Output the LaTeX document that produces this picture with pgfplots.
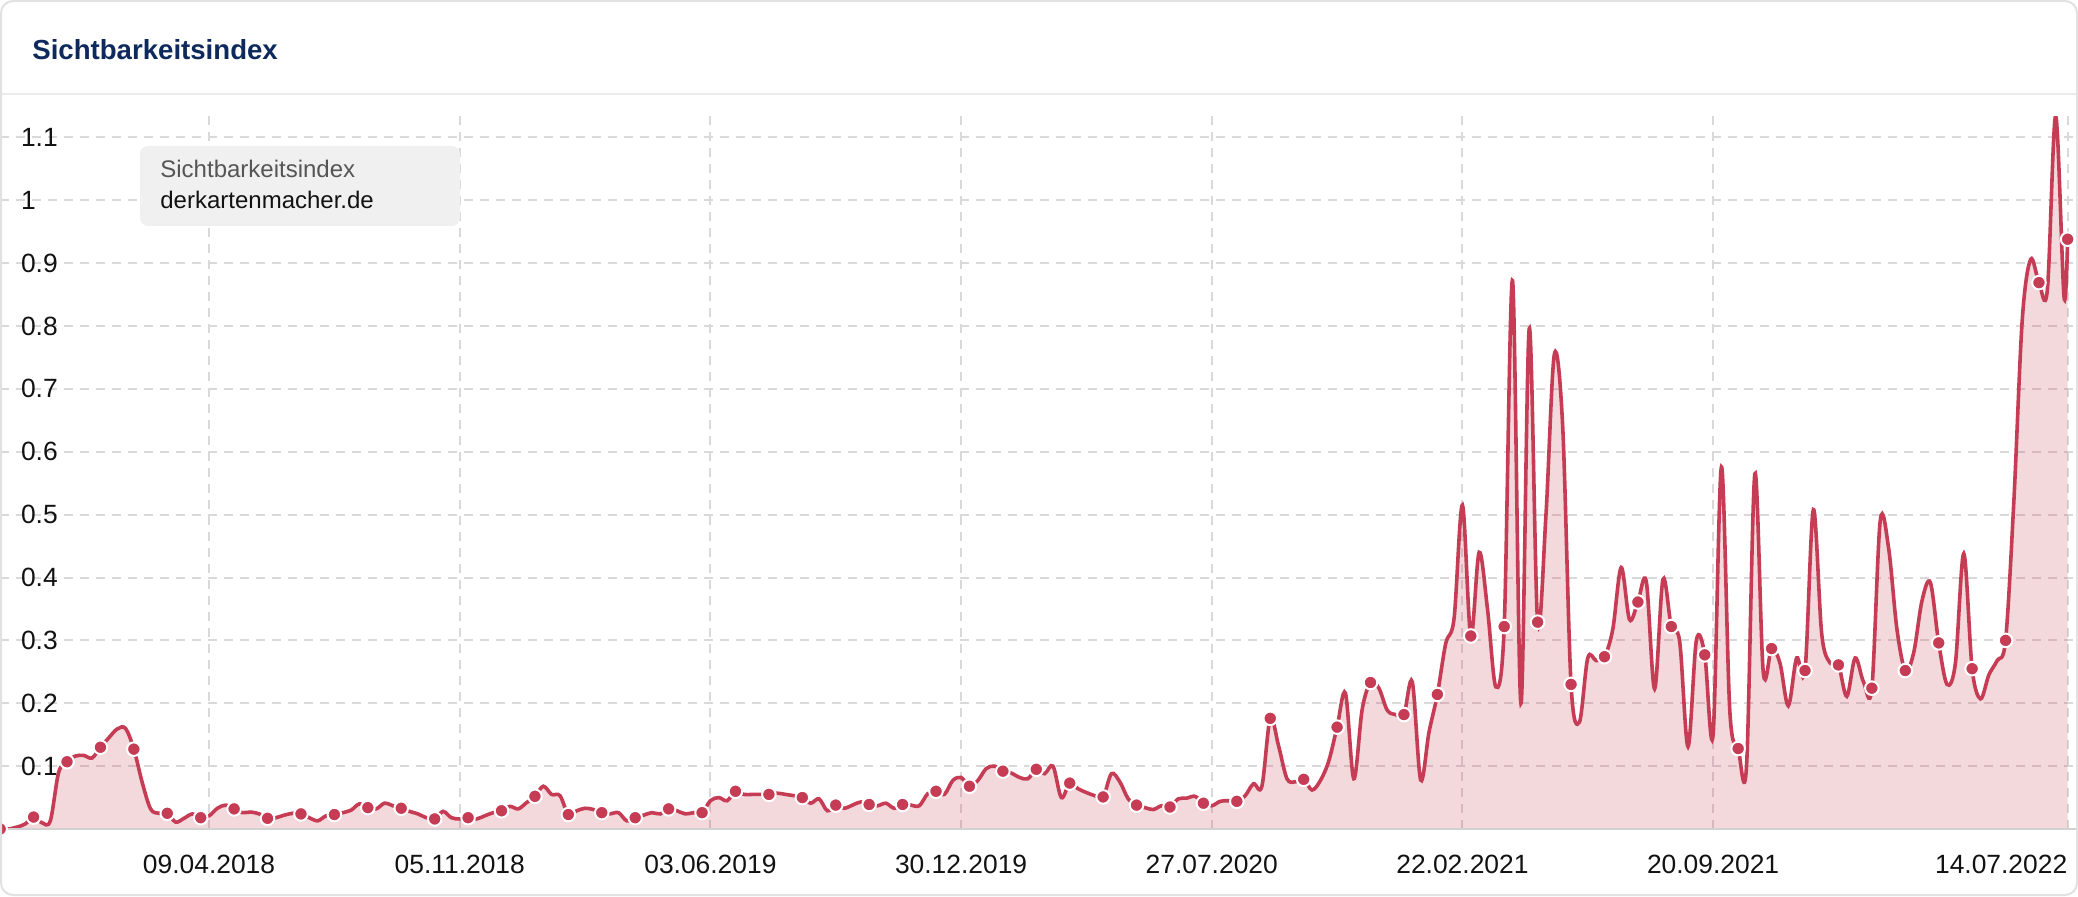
\documentclass[border=0pt]{standalone}
\usepackage{fontspec}
\setmainfont{Liberation Sans}
\usepackage{pgfplots}
\pgfplotsset{compat=1.18}
\usepackage{pgfplotstable}
\definecolor{sred}{RGB}{197,60,84}
\definecolor{snavy}{RGB}{14,42,92}
\definecolor{gridc}{RGB}{217,217,217}
\definecolor{legbg}{RGB}{240,240,240}
\definecolor{leggray}{RGB}{85,85,85}
\definecolor{cardb}{RGB}{225,225,225}
\pgfplotstableread{
k v
0 0.000
1 0.000
2 0.003
3 0.008
4 0.019
5 0.010
6 0.013
7 0.090
8 0.107
9 0.116
10 0.117
11 0.113
12 0.130
13 0.145
14 0.159
15 0.160
16 0.127
17 0.074
18 0.032
19 0.025
20 0.025
21 0.011
22 0.017
23 0.024
24 0.018
25 0.021
26 0.033
27 0.038
28 0.032
29 0.026
30 0.027
31 0.024
32 0.017
33 0.018
34 0.022
35 0.025
36 0.024
37 0.018
38 0.013
39 0.021
40 0.023
41 0.026
42 0.030
43 0.040
44 0.034
45 0.032
46 0.041
47 0.037
48 0.033
49 0.028
50 0.024
51 0.018
52 0.016
53 0.028
54 0.018
55 0.016
56 0.018
57 0.016
58 0.021
59 0.026
60 0.029
61 0.036
62 0.032
63 0.042
64 0.052
65 0.068
66 0.055
67 0.053
68 0.023
69 0.029
70 0.033
71 0.031
72 0.026
73 0.024
74 0.026
75 0.013
76 0.018
77 0.022
78 0.026
79 0.024
80 0.032
81 0.029
82 0.024
83 0.026
84 0.026
85 0.045
86 0.050
87 0.045
88 0.060
89 0.055
90 0.055
91 0.055
92 0.055
93 0.057
94 0.055
95 0.053
96 0.050
97 0.041
98 0.048
99 0.029
100 0.038
101 0.033
102 0.038
103 0.043
104 0.039
105 0.037
106 0.041
107 0.033
108 0.039
109 0.038
110 0.037
111 0.056
112 0.060
113 0.055
114 0.077
115 0.082
116 0.068
117 0.077
118 0.096
119 0.100
120 0.092
121 0.089
122 0.082
123 0.080
124 0.095
125 0.088
126 0.100
127 0.050
128 0.073
129 0.064
130 0.058
131 0.053
132 0.051
133 0.088
134 0.075
135 0.048
136 0.038
137 0.034
138 0.031
139 0.037
140 0.035
141 0.048
142 0.049
143 0.052
144 0.041
145 0.037
146 0.044
147 0.045
148 0.044
149 0.053
150 0.072
151 0.068
152 0.176
153 0.132
154 0.080
155 0.075
156 0.079
157 0.062
158 0.077
159 0.108
160 0.162
161 0.216
162 0.080
163 0.190
164 0.233
165 0.224
166 0.189
167 0.182
168 0.182
169 0.234
170 0.078
171 0.154
172 0.214
173 0.295
174 0.335
175 0.515
176 0.307
177 0.440
178 0.350
179 0.226
180 0.322
181 0.872
182 0.200
183 0.796
184 0.329
185 0.500
186 0.755
187 0.640
188 0.230
189 0.170
190 0.272
191 0.268
192 0.274
193 0.318
194 0.416
195 0.333
196 0.361
197 0.394
198 0.223
199 0.397
200 0.322
201 0.298
202 0.131
203 0.300
204 0.277
205 0.150
206 0.576
207 0.188
208 0.128
209 0.100
210 0.565
211 0.250
212 0.287
213 0.264
214 0.196
215 0.272
216 0.252
217 0.508
218 0.310
219 0.264
220 0.261
221 0.211
222 0.272
223 0.234
224 0.224
225 0.490
226 0.447
227 0.318
228 0.252
229 0.280
230 0.363
231 0.392
232 0.296
233 0.230
234 0.264
235 0.438
236 0.255
237 0.207
238 0.245
239 0.268
240 0.300
241 0.523
242 0.810
243 0.906
244 0.869
245 0.857
246 1.134
247 0.846
247.4286 0.938
}\sidata
\begin{document}
\begin{tikzpicture}
\path[use as bounding box] (0,-33.5pt) rectangle (1039pt,414.5pt);
\fill[white, rounded corners=6pt] (0.5pt,-33pt) rectangle (1038.5pt,414pt);
\begin{axis}[
  at={(0,0)}, anchor=south west,
  scale only axis, width=1039pt, height=356.5pt,
  xmin=-0.02, xmax=248.67, ymin=0, ymax=1.134,
  axis line style={draw=none},
  major tick length=0pt,
  tick label style={font=\fontsize{13.2}{15}\selectfont, text=black!93},
  xtick={25,55,85,115,145,175,205},
  xticklabels={09.04.2018,05.11.2018,03.06.2019,30.12.2019,27.07.2020,22.02.2021,20.09.2021},
  xticklabel style={anchor=base, yshift=-22.2pt, inner sep=0pt},
  extra x ticks={247.4286},
  extra x tick labels={14.07.2022},
  extra x tick style={xticklabel style={anchor=base east}},
  ytick={0.1,0.2,0.3,0.4,0.5,0.6,0.7,0.8,0.9,1,1.1},
  yticklabels={0.1,0.2,0.3,0.4,0.5,0.6,0.7,0.8,0.9,1,1.1},
  yticklabel style={anchor=west, xshift=10.3pt, inner sep=0pt},
  grid=major,
  major grid style={color=gridc, line width=1pt, dash pattern=on 4.7pt off 3.3pt},
  clip mode=individual,
]
\addplot[draw=none, fill=sred, fill opacity=0.2, smooth, tension=0.55] table[x=k, y=v] {\sidata} \closedcycle;
\addplot[color=sred, line width=1.8pt, smooth, tension=0.55] table[x=k, y=v] {\sidata};
\draw[color=black!18, line width=1pt] (rel axis cs:0,0) -- (rel axis cs:1,0);
\addplot[only marks, mark=*, mark repeat=4, mark size=3.4pt, mark options={fill=sred, draw=white, line width=1pt}] table[x=k, y=v] {\sidata};
\end{axis}
% legend box
\fill[legbg, rounded corners=4pt] (70pt,301.5pt) rectangle (230pt,341.5pt);
\node[anchor=base west, inner sep=0pt, text=leggray, font=\fontsize{12}{14}\selectfont] at (80pt,325.6pt) {Sichtbarkeitsindex};
\node[anchor=base west, inner sep=0pt, text=black!93, font=\fontsize{12}{14}\selectfont] at (80pt,310pt) {derkartenmacher.de};
% title and separator
\node[anchor=base west, inner sep=0pt, text=snavy, font=\bfseries\fontsize{13.8}{16}\selectfont] at (16pt,384.9pt) {Sichtbarkeitsindex};
\draw[color=black!8, line width=1pt] (0.5pt,367.5pt) -- (1038.5pt,367.5pt);
\draw[cardb, line width=1pt, rounded corners=6pt] (0.5pt,-33pt) rectangle (1038.5pt,414pt);
\end{tikzpicture}
\end{document}
